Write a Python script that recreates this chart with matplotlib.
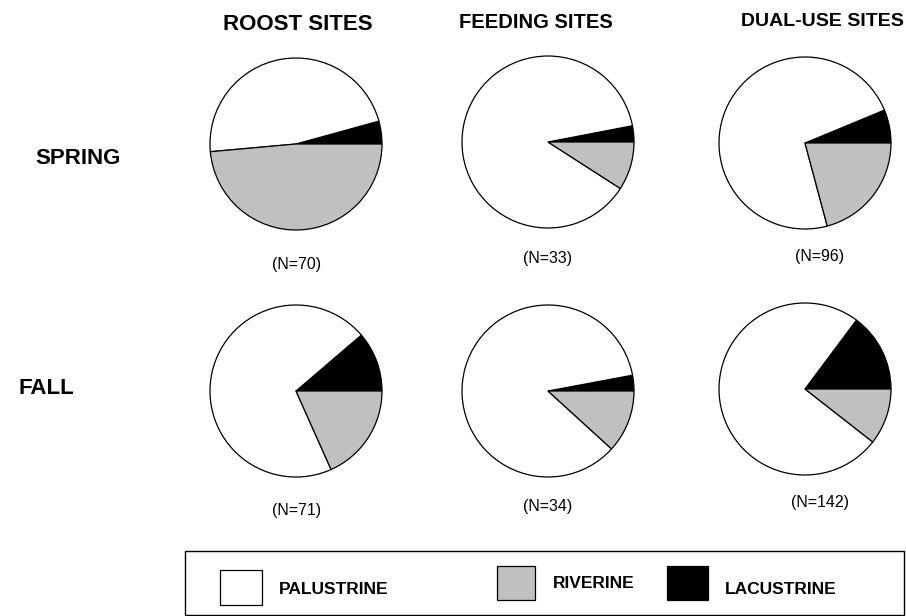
import matplotlib
matplotlib.use("Agg")
import matplotlib.pyplot as plt
from matplotlib.patches import Rectangle

plt.rcParams['font.family'] = ['Liberation Sans', 'DejaVu Sans']

# Data (counts per wetland type)
seasons = ["SPRING", "FALL"]
site_types = ["ROOST SITES", "FEEDING SITES", "DUAL-USE SITES"]
habitat = ["LACUSTRINE", "PALUSTRINE", "RIVERINE"]
colors = ["black", "white", "#c0c0c0"]
spring_lacustrine = [3, 1, 6]
spring_palustrine = [33, 29, 70]
spring_riverine = [34, 3, 20]
fall_lacustrine = [8, 1, 21]
fall_palustrine = [50, 29, 106]
fall_riverine = [13, 4, 15]
spring_n = [70, 33, 96]
fall_n = [71, 34, 142]

W, H = 906, 616
fig = plt.figure(figsize=(W / 100, H / 100), dpi=100)
ax = fig.add_axes([0, 0, 1, 1])

def Y(y):
    return H - y

centers_x = [296, 548, 805]
centers_y_spring = [144, 142, 143]
centers_y_fall = [391, 391, 389]
R = 86

rows = [
    (spring_lacustrine, spring_palustrine, spring_riverine, spring_n, centers_y_spring, [265, 259, 256]),
    (fall_lacustrine, fall_palustrine, fall_riverine, fall_n, centers_y_fall, [511, 506, 503]),
]
n_label_x = [297, 548, 820]

for lac, pal, riv, ns, cys, nys in rows:
    for j in range(3):
        vals = [lac[j], pal[j], riv[j]]
        ax.pie(vals, colors=colors, startangle=0, counterclock=True,
               center=(centers_x[j], Y(cys[j])), radius=R, frame=True,
               wedgeprops=dict(edgecolor='black', linewidth=0.9))
        ax.text(n_label_x[j], Y(nys[j]), f"(N={ns[j]})", ha='center', va='center',
                fontsize=11.5)

title_specs = [(298, 25, 'center', 16), (536, 22, 'center', 14.5), (904, 22, 'right', 14)]
for t, (x, y, ha, fs) in zip(site_types, title_specs):
    ax.text(x, Y(y), t, ha=ha, va='center', fontsize=fs, fontweight='bold')

ax.text(35, Y(158), seasons[0], ha='left', va='center', fontsize=16, fontweight='bold')
ax.text(19, Y(388), seasons[1], ha='left', va='center', fontsize=16, fontweight='bold')

# Legend box
ax.add_patch(Rectangle((185, Y(615)), 719, 64, facecolor='white', edgecolor='black', linewidth=1))
leg_items = [
    ("PALUSTRINE", "white", 220, 570, 42, 35, 279, 589),
    ("RIVERINE", "#c0c0c0", 497, 566, 38, 34, 553, 583),
    ("LACUSTRINE", "black", 667, 566, 41, 34, 725, 590),
]
for name, c, x, y, w, h, tx, ty in leg_items:
    ax.add_patch(Rectangle((x, Y(y + h)), w, h, facecolor=c, edgecolor='black', linewidth=0.9))
    ax.text(tx, Y(ty), name, ha='left', va='center', fontsize=12.5, fontweight='bold')

ax.set_xlim(0, W)
ax.set_ylim(0, H)
ax.set_aspect('auto')
ax.axis('off')

fig.savefig("out.png", dpi=100)
